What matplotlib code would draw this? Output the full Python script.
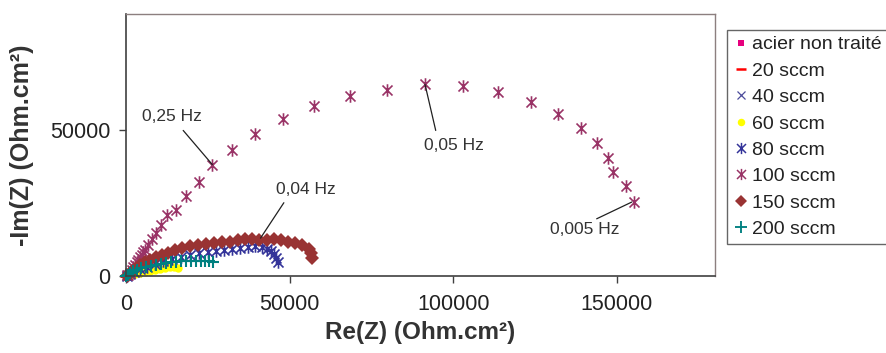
import matplotlib
matplotlib.use("Agg")
import matplotlib.pyplot as plt
from matplotlib.path import Path

plt.rcParams['font.family'] = ['Liberation Sans', 'DejaVu Sans']

# ---- data (Re(Z), -Im(Z)) in Ohm.cm² ----
acier_re = [100, 300, 600, 900, 1200, 1500]
acier_im = [50, 250, 500, 700, 800, 750]

s20_re = [100, 400, 800, 1200, 1600, 2000]
s20_im = [80, 300, 550, 700, 750, 650]

s40_re = [150, 600, 1200, 2000, 2800, 3500]
s40_im = [100, 450, 800, 1050, 1100, 1000]

s60_re = [0, 600, 1500, 2800, 4300, 5800, 7400, 8900, 10400, 11900, 13500, 14700, 15900]
s60_im = [0, 170, 340, 690, 1030, 1380, 1720, 2070, 2410, 2760, 2930, 2930, 2590]

s80_re = [300, 1230, 2450, 4290, 6440, 8900, 11350, 14110, 16870, 19630, 22390,
          25150, 27600, 30060, 32510, 34970, 37420, 39570, 41410, 42940, 44170,
          45080, 45700, 46310]
s80_im = [170, 690, 1380, 2240, 3100, 4140, 5000, 5860, 6550, 7240, 7760,
          8100, 8450, 8790, 9310, 9650, 10000, 10170, 9830, 9140, 8450,
          7410, 6210, 4830]

s100_re = [200, 700, 1230, 1750, 2250, 2760, 3260, 3770, 4290, 4820, 5320, 5830,
           6840, 8070, 9200, 10580, 12480, 15240, 18310, 22170, 26380, 32540,
           39350, 47880, 57320, 68360, 79740, 91370, 102870, 113730, 123900,
           132070, 139060, 144030, 147220, 148750, 152740, 155280]
s100_im = [200, 345, 1200, 2070, 2930, 3790, 4650, 5520, 6380, 7240, 8100, 8970,
           10690, 12650, 14720, 17590, 20790, 22760, 27340, 32310, 38270, 43450,
           48620, 53790, 58380, 61830, 63790, 65860, 65270, 63200, 59830,
           55520, 50790, 45520, 40580, 35760, 30790, 25270]

s150_re = [300, 920, 1840, 3070, 4290, 5830, 7360, 9200, 11040, 12880, 15030,
           17170, 19630, 22080, 24540, 26990, 29440, 31900, 34350, 36500, 38640,
           40790, 42940, 45080, 47230, 49380, 51530, 53670, 55820, 56580, 56740]
s150_im = [170, 690, 1550, 2590, 3620, 4650, 5520, 6380, 7240, 7930, 8790,
           9480, 10170, 10690, 11030, 11380, 11550, 11720, 12240, 12760, 12590,
           12410, 12410, 12590, 12410, 11720, 11210, 10520, 9310, 7760, 6210]

s200_re = [150, 610, 1230, 2150, 3370, 4600, 6130, 7670, 9200, 10730, 12270,
           13800, 15340, 16870, 18400, 19940, 21470, 23000, 24230, 25460, 26680]
s200_im = [0, 340, 860, 1550, 2070, 2590, 3100, 3450, 3790, 4140, 4370,
           4650, 4830, 5000, 5170, 5170, 5170, 5170, 5100, 5000, 4830]

labels = ['acier non traité', '20 sccm', '40 sccm', '60 sccm', '80 sccm',
          '100 sccm', '150 sccm', '200 sccm']

# annotations: label, point (re, im), line start (re, im), text centre (re, im)
ann_labels = ['0,25 Hz', '0,05 Hz', '0,04 Hz', '0,005 Hz']
ann_points = [(26380, 38270), (91370, 65860), (41100, 13000), (154580, 25410)]
ann_starts = [(17480, 50000), (94650, 50000), (48240, 25170), (143840, 19650)]
ann_texts = [(14110, 54820), (100290, 44820), (54900, 29650), (140160, 15860)]

# ---- figure ----
W, H = 887, 353
fig = plt.figure(figsize=(W / 100, H / 100), dpi=100)
ax = fig.add_axes([126 / W, 1 - 276 / H, (715 - 126) / W, (276 - 14) / H])

# Excel-like asterisk marker: x plus vertical bar
ast = Path([(-1, -1), (1, 1), (-1, 1), (1, -1), (0, -1.25), (0, 1.25)],
           [Path.MOVETO, Path.LINETO, Path.MOVETO, Path.LINETO, Path.MOVETO, Path.LINETO])

series = [
    (acier_re, acier_im, dict(marker='s', color='#E6007E', ms=5, mew=0)),
    (s20_re, s20_im, dict(marker='_', color='#FF0000', ms=8, mew=2)),
    (s40_re, s40_im, dict(marker='x', color='#4B4B9B', ms=6, mew=1)),
    (s60_re, s60_im, dict(marker='o', color='#FFFF00', ms=6, mew=0)),
    (s80_re, s80_im, dict(marker=ast, color='#333399', ms=9, mew=1.2)),
    (s100_re, s100_im, dict(marker=ast, color='#993366', ms=9, mew=1.2)),
    (s150_re, s150_im, dict(marker='D', color='#993333', ms=7, mew=0)),
    (s200_re, s200_im, dict(marker='+', color='#008080', ms=9, mew=1.5)),
]
for (xs, ys, st), lab in zip(series, labels):
    ax.plot(xs, ys, linestyle='none', marker=st['marker'], color=st['color'],
            markersize=st['ms'], markeredgewidth=st['mew'], label=lab,
            clip_on=False)

for lab, pt, st, tx in zip(ann_labels, ann_points, ann_starts, ann_texts):
    ax.annotate('', xy=pt, xytext=st,
                arrowprops=dict(arrowstyle='-', color='#202020', lw=0.9,
                                shrinkA=0, shrinkB=0))
    ax.text(tx[0], tx[1], lab, ha='center', va='center', fontsize=12.5,
            color='#333333')

ax.set_xlim(0, 180000)
ax.set_ylim(0, 90000)
ax.set_xticks([0, 50000, 100000, 150000])
ax.set_yticks([0, 50000])
ax.tick_params(axis='both', direction='out', length=5, width=1, colors='#404040',
               labelsize=15.5, labelcolor='#222222')
ax.tick_params(axis='x', pad=8)
ax.tick_params(axis='y', pad=6)
for s in ['left', 'bottom']:
    ax.spines[s].set_color('#404040')
    ax.spines[s].set_linewidth(1.2)
for s in ['top', 'right']:
    ax.spines[s].set_color('#8C7F7F')
    ax.spines[s].set_linewidth(1.0)

ax.set_xlabel('Re(Z) (Ohm.cm²)', fontsize=17.5, fontweight='bold', color='#333333')
ax.set_ylabel('-Im(Z) (Ohm.cm²)', fontsize=18, fontweight='bold', color='#333333')
ax.xaxis.set_label_coords(420.5 / W, 1 - 332 / H, transform=fig.transFigure)
ax.yaxis.set_label_coords(22 / W, 1 - 145 / H, transform=fig.transFigure)
ax.xaxis.label.set_va('center')
ax.yaxis.label.set_va('center')

leg_handles = []
for st, lab in zip(series, labels):
    s = st[2]
    h, = ax.plot([], [], linestyle='none', marker=s['marker'], color=s['color'],
                 markersize=s['ms'] * 0.9, markeredgewidth=s['mew'] * 0.9, label=lab)
    leg_handles.append(h)

leg = fig.legend(handles=leg_handles, labels=labels, loc='upper left',
                 bbox_to_anchor=(727 / W, 1 - 30 / H), frameon=True,
                 fancybox=False, edgecolor='#404040', fontsize=14,
                 handlelength=0.8, handletextpad=0.2, labelspacing=0.45,
                 borderpad=0.3, borderaxespad=0, markerscale=1.0)
leg.get_frame().set_linewidth(1.0)
for t in leg.get_texts():
    t.set_color('#222222')

fig.savefig('out.png', dpi=100, facecolor='white')
